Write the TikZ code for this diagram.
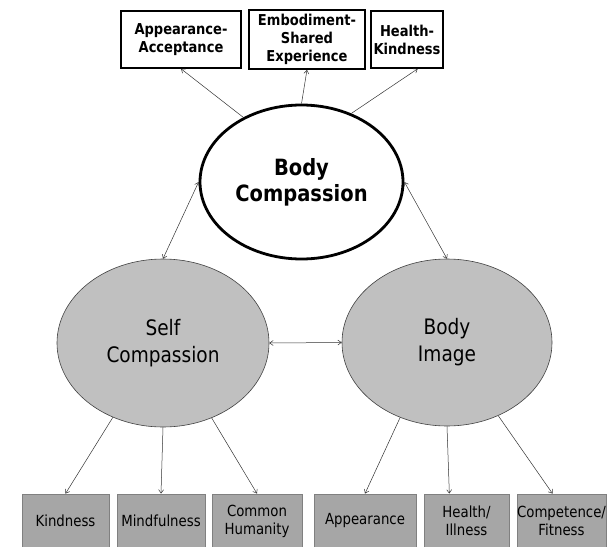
\documentclass[tikz,border=0pt]{standalone}
\usepackage{fontspec}
\setmainfont{DejaVu Sans}[FakeStretch=0.87]
\usetikzlibrary{%
    arrows.meta,
    calc,
    shapes.geometric
}
\definecolor{latentgray}{RGB}{192,192,192}
\definecolor{boxgray}{RGB}{166,166,166}
\tikzset{headarrow/.style = {-{Straight Barb[length=3.5pt,width=5pt]}, line width=.5pt, black!80}}
\tikzset{botharrow/.style = {{Straight Barb[length=3.5pt,width=5pt]}-{Straight Barb[length=3.5pt,width=5pt]}, line width=.5pt, black!80}}
\tikzset{facet/.style = {rectangle, draw, line width=1.6pt, fill=white, inner sep=0pt, align=center,
                         font=\bfseries\fontsize{15}{18}\selectfont}}
\tikzset{latent/.style = {ellipse, draw=black!75, line width=.6pt, fill=latentgray, inner sep=0pt, align=center,
                          font=\fontsize{21.3}{27}\selectfont}}
\tikzset{indicator/.style = {rectangle, draw=black!50, line width=.8pt, fill=boxgray, inner sep=0pt, align=center,
                             font=\fontsize{15.3}{18}\selectfont}}

\begin{document}
\begin{tikzpicture}[x=1pt, y=-1pt]
    \useasboundingbox (0,0) rectangle (610,546);

    \node (bc) [latent, draw=black, line width=2.8pt, fill=white,
                font=\bfseries\fontsize{22.4}{26}\selectfont,
                minimum width=203pt, minimum height=154pt] at (301.5,182) {Body\\Compassion};
    \node (sc) [latent, minimum width=212pt, minimum height=168pt] at (163,343) {Self\\Compassion};
    \node (bi) [latent, minimum width=210pt, minimum height=167pt] at (447,342.5) {Body\\Image};

    \node (aa) [facet, minimum width=120pt, minimum height=57pt] at (181,39.5) {Appearance-\\Acceptance};
    \node (es) [facet, minimum width=116pt, minimum height=59pt] at (307,39.5) {Embodiment-\\Shared\\Experience};
    \node (hk) [facet, minimum width=72pt, minimum height=57pt] at (407,39.5) {Health-\\Kindness};

    \node (kind) [indicator, minimum width=87pt, minimum height=54pt] at (65.5,521) {Kindness};
    \node (mind) [indicator, minimum width=88pt, minimum height=54pt] at (161,521) {Mindfulness};
    \node (comm) [indicator, minimum width=90pt, minimum height=54pt] at (257,521) {Common\\Humanity};
    \node (appr) [indicator, minimum width=102pt, minimum height=54pt] at (365,521) {Appearance};
    \node (hlth) [indicator, minimum width=85pt, minimum height=54pt] at (466.5,521) {Health/\\Illness};
    \node (comp) [indicator, minimum width=89pt, minimum height=54pt] at (561.5,521) {Competence/\\Fitness};

    \coordinate (hlthtop) at ($(hlth.north west)!0.3!(hlth.north east)$);
    \coordinate (comptop) at ($(comp.north west)!0.4!(comp.north east)$);

    \foreach \Source/\Target in {%
        bc.132.9/aa.south,
        bc.north/es.south,
        bc.54.9/hk.-70,
        sc.-124.9/kind.north,
        sc.south/mind.north,
        sc.-57.2/comm.north,
        bi.-122.2/appr.north,
        bi.south/hlthtop,
        bi.-55.4/comptop%
    }
        \draw[headarrow] (\Source) to (\Target);

    \foreach \Source/\Target in {%
        bc.west/sc.north,
        bc.east/bi.north,
        sc.east/bi.west%
    }
        \draw[botharrow] (\Source) to (\Target);
\end{tikzpicture}
\end{document}
